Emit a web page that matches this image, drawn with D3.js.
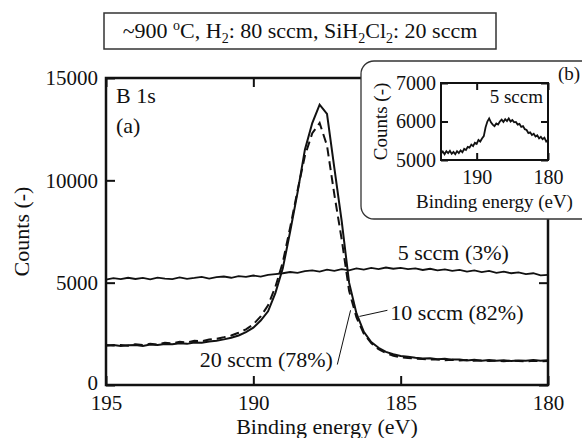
<!DOCTYPE html>
<html>
<head>
<meta charset="utf-8">
<script src="https://cdn.jsdelivr.net/npm/d3@7"></script>
<style>
  html, body { margin: 0; padding: 0; background: #fff; }
  svg text { font-family: "Liberation Serif", "DejaVu Serif", "Noto Serif", serif; }
</style>
</head>
<body>
<svg id="chart" width="582" height="438"></svg>
<script>
// binding energy grid (eV), 195 -> 180 in 0.25 steps
const energy = d3.range(0, 61).map(i => 195 - 0.25 * i);

// B 1s spectra, counts
const sccm10 = [1920,1950,1900,1940,1960,1910,1980,1950,2000,1990,2040,2010,2080,2060,2130,2160,
  2230,2310,2420,2580,2800,3150,3600,4500,5700,7500,9400,11500,12800,13700,13250,10600,8000,5000,
  3500,2600,2100,1820,1620,1500,1420,1380,1330,1300,1310,1260,1280,1240,1250,1200,1230,1190,1220,
  1180,1210,1170,1200,1190,1220,1180,1210];
const sccm20 = [1950,1930,1960,1920,1990,1950,2010,1980,2060,2030,2110,2080,2160,2140,2220,2260,
  2330,2420,2550,2720,2960,3350,3900,4800,6000,7700,9500,11200,12300,12800,11700,9300,7100,4600,
  3300,2500,2050,1750,1560,1430,1360,1320,1290,1270,1240,1250,1210,1230,1200,1220,1180,1200,1170,
  1190,1160,1190,1170,1150,1180,1160,1170];
const sccm5 = [5150,5220,5170,5240,5180,5230,5160,5250,5200,5170,5260,5190,5230,5280,5200,5270,
  5300,5240,5320,5280,5350,5300,5380,5420,5460,5520,5480,5560,5600,5540,5640,5580,5660,5600,5700,
  5640,5720,5660,5740,5680,5720,5660,5700,5620,5680,5600,5650,5580,5620,5540,5600,5520,5580,5480,
  5540,5460,5500,5420,5460,5360,5380];
// inset (b): 5 sccm on its own scale
const inset5 = [5170,5220,5150,5230,5180,5240,5160,5210,5150,5230,5180,5250,5200,5290,5260,5340,
  5320,5400,5360,5450,5420,5520,5480,5560,5620,5850,6000,6080,5980,5920,5880,5950,5920,6000,6050,
  5990,6060,6010,6080,6000,6040,5980,5990,5920,5940,5860,5880,5800,5780,5700,5720,5650,5680,5610,
  5640,5560,5600,5540,5580,5480,5520];

const xTicks = [195, 190, 185, 180];
const yTicks = [0, 5000, 10000, 15000];
const insetXTicks = [190, 180];
const insetYTicks = [5000, 6000, 7000];

const serif = '"Liberation Serif", "DejaVu Serif", "Noto Serif", serif';
const svg = d3.select('#chart');
const ink = '#111';

// main plot area
const M = { left: 106, right: 548, top: 78, bottom: 385 };
const x = d3.scaleLinear().domain([195, 180]).range([M.left, M.right]);
const y = d3.scaleLinear().domain([0, 15000]).range([M.bottom, M.top]);

const main = svg.append('g');

function styleAxis(g, size) {
  g.attr('font-family', serif);
  g.select('.domain').remove();
  g.selectAll('line').attr('stroke', ink).attr('stroke-width', 2);
  g.selectAll('text').attr('fill', ink).attr('font-family', serif).attr('font-size', size);
}

main.append('g').attr('transform', `translate(0,${M.bottom})`)
  .call(d3.axisBottom(x).tickValues(xTicks).tickFormat(d3.format('d')).tickSize(-9).tickPadding(10))
  .call(g => styleAxis(g, 21));
main.append('g').attr('transform', `translate(0,${M.top})`)
  .call(d3.axisTop(x).tickValues(xTicks).tickFormat('').tickSize(-9))
  .call(g => styleAxis(g, 21));
main.append('g').attr('transform', `translate(${M.left},0)`)
  .call(d3.axisLeft(y).tickValues(yTicks).tickFormat(d3.format('d')).tickSize(-9).tickPadding(8))
  .call(g => styleAxis(g, 21))
  .call(g => g.selectAll('.tick text').filter(d => d === 0).attr('dy', '0.2em'));
main.append('g').attr('transform', `translate(${M.right},0)`)
  .call(d3.axisRight(y).tickValues(yTicks).tickFormat('').tickSize(-9))
  .call(g => styleAxis(g, 21));

const line = d3.line().x((d, i) => x(energy[i])).y(d => y(d));

main.append('path').datum(sccm5).attr('d', line)
  .attr('fill', 'none').attr('stroke', ink).attr('stroke-width', 1.8);
main.append('path').datum(sccm20).attr('d', line)
  .attr('fill', 'none').attr('stroke', ink).attr('stroke-width', 2).attr('stroke-dasharray', '9,5');
main.append('path').datum(sccm10).attr('d', line)
  .attr('fill', 'none').attr('stroke', ink).attr('stroke-width', 2);

main.append('rect')
  .attr('x', M.left).attr('y', M.top)
  .attr('width', M.right - M.left).attr('height', M.bottom - M.top)
  .attr('fill', 'none').attr('stroke', ink).attr('stroke-width', 2.5);

// axis titles
main.append('text').attr('x', (M.left + M.right) / 2).attr('y', 434)
  .attr('text-anchor', 'middle').attr('fill', ink).attr('font-size', 22)
  .text('Binding energy (eV)');
main.append('text').attr('transform', `translate(29,${(M.top + M.bottom) / 2}) rotate(-90)`)
  .attr('text-anchor', 'middle').attr('fill', ink).attr('font-size', 22)
  .text('Counts (-)');

main.append('text').attr('x', M.left + 10).attr('y', 103).attr('fill', ink)
  .attr('font-size', 22).text('B 1s');
main.append('text').attr('x', M.left + 10).attr('y', 133).attr('fill', ink)
  .attr('font-size', 22).text('(a)');

// curve labels
const labels = [
  { text: '5 sccm (3%)', e: 185.1, c: 6100, anchor: 'start', lead: null },
  { text: '10 sccm (82%)', e: 185.35, c: 3200, anchor: 'start', lead: { e: 186.4, c: 3350, e2: 185.45, c2: 3650 } },
  { text: '20 sccm (78%)', e: 187.3, c: 880, anchor: 'end', lead: { e: 186.7, c: 3650, e2: 187.15, c2: 1000 } }
];
labels.forEach(l => {
  main.append('text').attr('x', x(l.e)).attr('y', y(l.c))
    .attr('text-anchor', l.anchor).attr('fill', ink).attr('font-size', 22).text(l.text);
  if (l.lead) {
    main.append('line')
      .attr('x1', x(l.lead.e)).attr('y1', y(l.lead.c))
      .attr('x2', x(l.lead.e2)).attr('y2', y(l.lead.c2))
      .attr('stroke', ink).attr('stroke-width', 1);
  }
});

// condition box
const title = svg.append('g');
title.append('rect').attr('x', 104).attr('y', 13).attr('width', 392).attr('height', 36)
  .attr('fill', '#fff').attr('stroke', '#333').attr('stroke-width', 1.5);
const tt = title.append('text').attr('x', 300).attr('y', 38).attr('text-anchor', 'middle')
  .attr('fill', ink).attr('font-size', 22);
tt.append('tspan').text('~900 ');
tt.append('tspan').attr('dy', -8).attr('font-size', 14).text('o');
tt.append('tspan').attr('dy', 8).text('C, H');
tt.append('tspan').attr('dy', 5).attr('font-size', 14).text('2');
tt.append('tspan').attr('dy', -5).text(': 80 sccm, SiH');
tt.append('tspan').attr('dy', 5).attr('font-size', 14).text('2');
tt.append('tspan').attr('dy', -5).text('Cl');
tt.append('tspan').attr('dy', 5).attr('font-size', 14).text('2');
tt.append('tspan').attr('dy', -5).text(': 20 sccm');

// inset (b)
const inset = svg.append('g');
inset.append('rect').attr('x', 361).attr('y', 61).attr('width', 260).attr('height', 158)
  .attr('rx', 13).attr('fill', '#fff').attr('stroke', '#333').attr('stroke-width', 1.3);

const I = { left: 441, right: 548, top: 83, bottom: 160 };
const xi = d3.scaleLinear().domain([195, 180]).range([I.left, I.right]);
const yi = d3.scaleLinear().domain([5000, 7000]).range([I.bottom, I.top]);

inset.append('g').attr('transform', `translate(0,${I.bottom})`)
  .call(d3.axisBottom(xi).tickValues(insetXTicks).tickFormat(d3.format('d')).tickSize(-7).tickPadding(10))
  .call(g => styleAxis(g, 20));
inset.append('g').attr('transform', `translate(0,${I.top})`)
  .call(d3.axisTop(xi).tickValues(insetXTicks).tickFormat('').tickSize(-7))
  .call(g => styleAxis(g, 20));
inset.append('g').attr('transform', `translate(${I.left},0)`)
  .call(d3.axisLeft(yi).tickValues(insetYTicks).tickFormat(d3.format('d')).tickSize(-7).tickPadding(5))
  .call(g => styleAxis(g, 20));
inset.append('g').attr('transform', `translate(${I.right},0)`)
  .call(d3.axisRight(yi).tickValues(insetYTicks).tickFormat('').tickSize(-7))
  .call(g => styleAxis(g, 20));

inset.append('path').datum(inset5)
  .attr('d', d3.line().x((d, i) => xi(energy[i])).y(d => yi(d)))
  .attr('fill', 'none').attr('stroke', ink).attr('stroke-width', 1.8);

inset.append('rect')
  .attr('x', I.left).attr('y', I.top)
  .attr('width', I.right - I.left).attr('height', I.bottom - I.top)
  .attr('fill', 'none').attr('stroke', ink).attr('stroke-width', 2);

inset.append('text').attr('x', I.right - 5).attr('y', 103).attr('text-anchor', 'end')
  .attr('fill', ink).attr('font-size', 19).text('5 sccm');
inset.append('text').attr('x', (I.left + I.right) / 2).attr('y', 208).attr('text-anchor', 'middle')
  .attr('fill', ink).attr('font-size', 19).text('Binding energy (eV)');
inset.append('text').attr('transform', `translate(387,${(I.top + I.bottom) / 2}) rotate(-90)`)
  .attr('text-anchor', 'middle').attr('fill', ink).attr('font-size', 19).text('Counts (-)');
inset.append('text').attr('x', 558).attr('y', 80).attr('fill', ink)
  .attr('font-size', 19).text('(b)');
</script>
</body>
</html>
